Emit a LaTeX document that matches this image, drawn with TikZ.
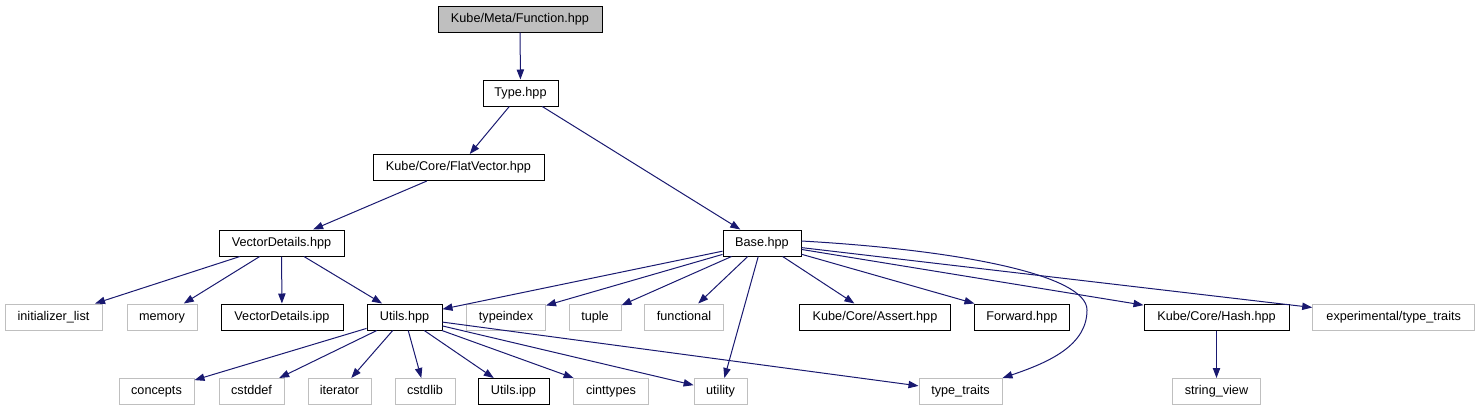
\documentclass[tikz,border=0pt]{standalone}
\usepackage{fontspec}
\setmainfont{Liberation Sans}
\usetikzlibrary{arrows.meta}
\definecolor{navy}{HTML}{191970}
\definecolor{lgray}{HTML}{BFBFBF}
\tikzset{
  box/.style={draw=black, line width=0.75pt, fill=white, inner sep=0pt,
    minimum height=19.5pt, text height=7pt, text depth=2pt,
    font=\fontsize{9.5}{11}\selectfont, text=black},
  sys/.style={box, draw=lgray},
  w/.style={minimum width={#1*0.75pt}},
  edge/.style={draw=navy, line width=0.75pt, -{Triangle[length=7.5pt,width=5.5pt]}},
}
\begin{document}
\begin{tikzpicture}[x=0.75pt,y=-0.75pt]
\useasboundingbox (0,0) rectangle (1480,411);
% nodes
\node[box,w=164,fill=lgray] (fn) at (520,19) {Kube/Meta/Function.hpp};
\node[box,w=75] (type) at (520.5,93) {Type.hpp};
\node[box,w=171] (flat) at (458.5,167.5) {Kube/Core/FlatVector.hpp};
\node[box,w=125] (vd) at (281.5,243) {VectorDetails.hpp};
\node[box,w=78] (base) at (762,243) {Base.hpp};
\node[sys,w=97] (il) at (53.5,317) {initializer\_list};
\node[sys,w=70] (mem) at (162,317) {memory};
\node[box,w=122] (vdi) at (282,317) {VectorDetails.ipp};
\node[box,w=75] (uh) at (404.5,317) {Utils.hpp};
\node[sys,w=79] (ti) at (506,317) {typeindex};
\node[sys,w=52] (tup) at (595,317) {tuple};
\node[sys,w=79] (fun) at (684,317) {functional};
\node[box,w=151] (as) at (875,317) {Kube/Core/Assert.hpp};
\node[box,w=95] (fw) at (1021.8,317) {Forward.hpp};
\node[box,w=145] (hash) at (1216.5,317) {Kube/Core/Hash.hpp};
\node[sys,w=162] (ett) at (1393.7,317) {experimental/type\_traits};
\node[sys,w=75] (con) at (156.5,391.5) {concepts};
\node[sys,w=65] (cdef) at (251.5,391.5) {cstddef};
\node[sys,w=63] (it) at (339.5,391.5) {iterator};
\node[sys,w=60] (clib) at (425,391.5) {cstdlib};
\node[box,w=71] (ui) at (513.5,391.5) {Utils.ipp};
\node[sys,w=75] (cint) at (611,391.5) {cinttypes};
\node[sys,w=53] (ut) at (720.6,391.5) {utility};
\node[sys,w=83] (tt) at (960.5,391.5) {type\_traits};
\node[sys,w=88] (sv) at (1216.5,391.5) {string\_view};
% edges
\draw[edge] (fn) -- (type);
\draw[edge] (type) -- (flat);
\draw[edge] (type) -- (base);
\draw[edge] (flat) -- (vd);
\draw[edge] (vd) -- (il);
\draw[edge] (vd) -- (mem);
\draw[edge] (vd) -- (vdi);
\draw[edge] (vd) -- (uh);
\draw[edge] (base) -- (uh);
\draw[edge] (base) -- (ti);
\draw[edge] (base) -- (tup);
\draw[edge] (base) -- (fun);
\draw[edge] (base) -- (ut);
\draw[edge] (base) -- (as);
\draw[edge] (base) -- (fw);
\draw[edge] (base) -- (hash);
\draw[edge] (base) -- (ett);
\draw[edge] ([yshift=1.5pt]base.east) .. controls (960,250) and (1087,275) .. (1087,310)
  .. controls (1087,345) and (1050,362) .. (tt.north east);
\draw[edge] (uh) -- (con);
\draw[edge] (uh) -- (cdef);
\draw[edge] (uh) -- (it);
\draw[edge] (uh) -- (clib);
\draw[edge] (uh) -- (ui);
\draw[edge] (uh) -- (cint);
\draw[edge] (uh) -- (ut);
\draw[edge] (uh) -- (tt);
\draw[edge] (hash) -- (sv);
\end{tikzpicture}
\end{document}
